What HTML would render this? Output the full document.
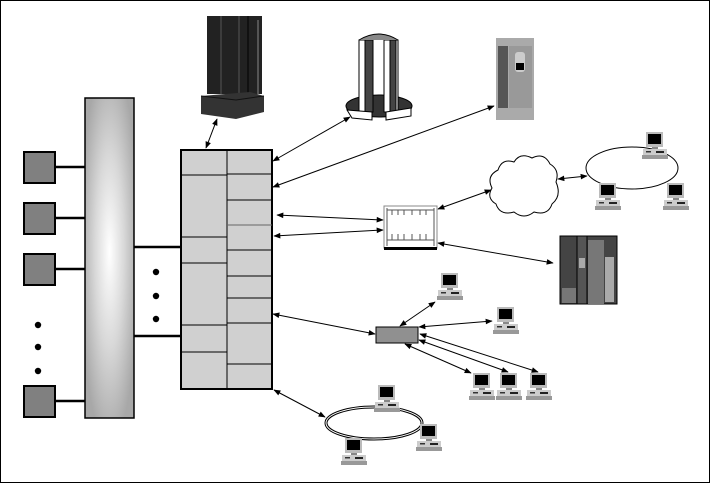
<!DOCTYPE html>
<html><head><meta charset="utf-8"><style>
html,body{margin:0;padding:0;background:#fff;}
svg{display:block;}
</style></head><body>
<svg width="710" height="483" viewBox="0 0 710 483" xmlns="http://www.w3.org/2000/svg">
<defs>
<marker id="a" viewBox="0 0 10 10" refX="9" refY="5" markerWidth="9" markerHeight="7" orient="auto-start-reverse" markerUnits="userSpaceOnUse"><path d="M0,1 L10,5 L0,9 Z" fill="#000"/></marker>
<radialGradient id="bar" cx="0.5" cy="0.48" r="0.6" fx="0.5" fy="0.48">
<stop offset="0" stop-color="#fff"/><stop offset="0.5" stop-color="#d8d8d8"/><stop offset="1" stop-color="#a8a8a8"/></radialGradient>
<g id="pc">
<rect x="3" y="0" width="17" height="15" fill="#bbb"/>
<rect x="5" y="2" width="13" height="10" fill="#000"/>
<rect x="9" y="15" width="6" height="2" fill="#888"/>
<rect x="0" y="17" width="24" height="6" fill="#ccc"/>
<rect x="3" y="19" width="5" height="1.5" fill="#333"/>
<rect x="13" y="19" width="8" height="2" fill="#222"/>
<rect x="-1" y="23" width="26" height="4" fill="#999"/>
</g>
</defs>
<rect x="0.5" y="0.5" width="709" height="482" fill="#fff" stroke="#000"/>

<!-- left squares -->
<g fill="#808080" stroke="#000" stroke-width="2">
<rect x="24" y="152" width="31" height="31"/>
<rect x="24" y="203" width="31" height="31"/>
<rect x="24" y="254" width="31" height="31"/>
<rect x="24" y="386" width="31" height="31"/>
</g>
<g stroke="#000" stroke-width="2.5">
<line x1="55" y1="167" x2="85" y2="167"/>
<line x1="55" y1="218" x2="85" y2="218"/>
<line x1="55" y1="269" x2="85" y2="269"/>
<line x1="55" y1="401" x2="85" y2="401"/>
<line x1="134" y1="247" x2="180" y2="247"/>
<line x1="134" y1="336" x2="180" y2="336"/>
</g>
<g fill="#000">
<circle cx="38" cy="325" r="3.2"/><circle cx="38" cy="347" r="3.2"/><circle cx="38" cy="371" r="3.2"/>
<circle cx="156" cy="272" r="3.2"/><circle cx="156" cy="296" r="3.2"/><circle cx="156" cy="319" r="3.2"/>
</g>
<rect x="85" y="98" width="49" height="320" fill="url(#bar)" stroke="#000" stroke-width="1.5"/>

<!-- main box -->
<rect x="181" y="150" width="91" height="239" fill="#d0d0d0" stroke="#000" stroke-width="2"/>
<g stroke="#000" stroke-width="1">
<line x1="227" y1="150" x2="227" y2="389"/>
<line x1="181" y1="175" x2="227" y2="175"/>
<line x1="181" y1="237" x2="227" y2="237"/>
<line x1="181" y1="263" x2="227" y2="263"/>
<line x1="181" y1="325" x2="227" y2="325"/>
<line x1="181" y1="352" x2="227" y2="352"/>
<line x1="227" y1="174" x2="272" y2="174"/>
<line x1="227" y1="200" x2="272" y2="200"/>
<line x1="227" y1="225" x2="272" y2="225" stroke="#666"/>
<line x1="227" y1="250" x2="272" y2="250"/>
<line x1="227" y1="276" x2="272" y2="276"/>
<line x1="227" y1="298" x2="272" y2="298"/>
<line x1="227" y1="323" x2="272" y2="323"/>
<line x1="227" y1="364" x2="272" y2="364"/>
</g>

<!-- mainframe -->
<g>
<rect x="207" y="16" width="55" height="78" fill="#222"/>
<line x1="221" y1="16" x2="221" y2="94" stroke="#555"/>
<line x1="239" y1="16" x2="239" y2="94" stroke="#555"/>
<line x1="248" y1="16" x2="248" y2="94" stroke="#000"/>
<line x1="258" y1="20" x2="258" y2="94" stroke="#888"/>
<path d="M201,96 L250,92 L264,96 L264,112 L236,119 L201,114 Z" fill="#333"/>
<path d="M201,96 L236,100 L264,96" fill="none" stroke="#111"/>
</g>
<!-- cylinder -->
<g stroke="#000" stroke-width="1">
<ellipse cx="379" cy="106" rx="33" ry="11" fill="#333"/>
<rect x="359" y="40" width="14" height="72" fill="#fff"/>
<rect x="365" y="40" width="8" height="72" fill="#444"/>
<rect x="384" y="40" width="14" height="72" fill="#fff"/>
<rect x="390" y="40" width="6" height="72" fill="#444"/>
<path d="M359,40 Q379,28 398,40" fill="#888"/>
<path d="M347,110 L372,112 L372,120 L352,118 Z" fill="#fff"/>
<path d="M386,112 L411,108 L411,116 L386,120 Z" fill="#fff"/>
</g>
<!-- tower right -->
<rect x="496" y="38" width="38" height="82" fill="#aaa"/>
<rect x="498" y="46" width="10" height="62" fill="#555"/>
<rect x="509" y="46" width="23" height="62" fill="#999"/>
<rect x="515" y="52" width="10" height="20" fill="#ccc" rx="3"/>
<rect x="516" y="63" width="8" height="7" fill="#000"/>

<!-- switch -->
<rect x="384" y="206" width="53" height="42" fill="#fff" stroke="#888"/>
<g stroke="#555" stroke-width="1">
<line x1="387" y1="208" x2="387" y2="246"/><line x1="434" y1="208" x2="434" y2="246"/>
<line x1="387" y1="210" x2="434" y2="210"/><line x1="387" y1="240" x2="434" y2="240"/>
<line x1="392" y1="210" x2="392" y2="215"/><line x1="398" y1="210" x2="398" y2="215"/><line x1="404" y1="210" x2="404" y2="215"/><line x1="412" y1="210" x2="412" y2="215"/><line x1="420" y1="210" x2="420" y2="215"/><line x1="426" y1="210" x2="426" y2="215"/>
<line x1="392" y1="234" x2="392" y2="240"/><line x1="398" y1="234" x2="398" y2="240"/><line x1="404" y1="234" x2="404" y2="240"/><line x1="412" y1="234" x2="412" y2="240"/><line x1="420" y1="234" x2="420" y2="240"/><line x1="426" y1="234" x2="426" y2="240"/>
</g>
<rect x="384" y="247" width="53" height="3" fill="#000"/>

<!-- cloud -->
<path d="M498,170 Q502,158 514,162 Q520,152 532,158 Q544,152 550,164 Q560,170 556,182 Q562,196 552,204 Q548,216 534,212 Q524,220 514,212 Q500,216 496,204 Q486,198 492,188 Q486,176 498,170 Z" fill="#fff" stroke="#000" stroke-width="1"/>
<!-- top ring -->
<ellipse cx="632" cy="168" rx="46" ry="21" fill="none" stroke="#000"/>
<use href="#pc" x="643" y="132"/>
<use href="#pc" x="596" y="183"/>
<use href="#pc" x="664" y="183"/>

<!-- big server -->
<rect x="560" y="236" width="57" height="68" fill="#444" stroke="#000"/>
<rect x="577" y="236" width="10" height="68" fill="#555" stroke="#000"/>
<rect x="588" y="240" width="16" height="64" fill="#777"/>
<rect x="605" y="257" width="9" height="45" fill="#aaa"/>
<rect x="562" y="288" width="14" height="15" fill="#777"/>
<rect x="579" y="258" width="6" height="10" fill="#aaa"/>

<!-- small box -->
<rect x="376" y="327" width="42" height="16" fill="#909090" stroke="#000"/>

<!-- PCs -->
<use href="#pc" x="438" y="273"/>
<use href="#pc" x="494" y="307"/>
<use href="#pc" x="470" y="373"/>
<use href="#pc" x="497" y="373"/>
<use href="#pc" x="527" y="373"/>

<!-- bottom ring -->
<ellipse cx="374" cy="423" rx="48" ry="16" fill="none" stroke="#000" stroke-width="3"/>
<ellipse cx="374" cy="423" rx="48" ry="16" fill="none" stroke="#fff" stroke-width="1"/>
<use href="#pc" x="375" y="385"/>
<use href="#pc" x="417" y="424"/>
<use href="#pc" x="342" y="438"/>

<!-- arrows -->
<g stroke="#000" stroke-width="1" marker-start="url(#a)" marker-end="url(#a)">
<line x1="206" y1="148" x2="217" y2="119"/>
<line x1="273" y1="161" x2="350" y2="117"/>
<line x1="273" y1="187" x2="494" y2="106"/>
<line x1="277" y1="215" x2="383" y2="220"/>
<line x1="274" y1="236" x2="383" y2="230"/>
<line x1="438" y1="209" x2="491" y2="190"/>
<line x1="558" y1="179" x2="587" y2="176"/>
<line x1="438" y1="243" x2="553" y2="263"/>
<line x1="273" y1="314" x2="375" y2="334"/>
<line x1="400" y1="326" x2="435" y2="302"/>
<line x1="419" y1="327" x2="492" y2="321"/>
<line x1="405" y1="344" x2="471" y2="373"/>
<line x1="419" y1="340" x2="508" y2="372"/>
<line x1="420" y1="334" x2="538" y2="372"/>
<line x1="274" y1="390" x2="325" y2="417"/>
</g>
</svg>
</body></html>
